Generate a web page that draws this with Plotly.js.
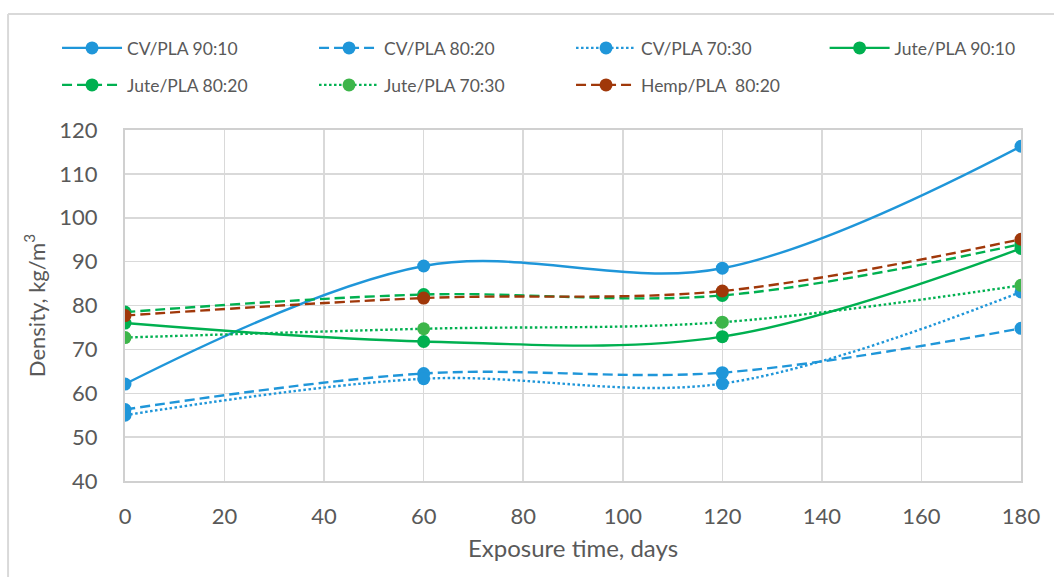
<!DOCTYPE html>
<html>
<head>
<meta charset="utf-8">
<script src="https://cdn.plot.ly/plotly-3.0.1.min.js"></script>
<style>html,body{margin:0;padding:0;background:#fff;}#chart{width:1054px;height:577px;}</style>
</head>
<body>
<div id="chart"></div>
<script>
const days = [0, 60, 120, 180];
const cvPla9010 = [62.1, 89.0, 88.5, 116.3];
const cvPla8020 = [56.3, 64.5, 64.7, 74.8];
const cvPla7030 = [55.0, 63.3, 62.2, 83.1];
const jutePla9010 = [76.0, 71.8, 72.9, 93.0];
const jutePla8020 = [78.5, 82.5, 82.3, 94.0];
const jutePla7030 = [72.7, 74.7, 76.2, 84.6];
const hempPla8020 = [77.7, 81.7, 83.3, 95.1];
const seriesNames = ["CV/PLA 90:10", "CV/PLA 80:20", "CV/PLA 70:30", "Jute/PLA 90:10", "Jute/PLA 80:20", "Jute/PLA 70:30", "Hemp/PLA  80:20"];
const xTicks = [0, 20, 40, 60, 80, 100, 120, 140, 160, 180];
const yTicks = [40, 50, 60, 70, 80, 90, 100, 110, 120];

const blue = '#1F96D9', green = '#00B050', lgreen = '#3DB54A', brown = '#A0380A';
function tr(name, y, color, dash, legendId, mcolor) {
  return {
    x: days, y: y, name: name, type: 'scatter', mode: 'lines+markers', legend: legendId,
    line: {color: color, width: 2.4, dash: dash, shape: 'spline', smoothing: 1},
    marker: {color: mcolor || color, size: 13, line: {width: 0}}
  };
}
const dashL = '10px,5px', dotL = '2.5px,2.5px';
const data = [
  tr(seriesNames[0], cvPla9010, blue, 'solid', 'legend'),
  tr(seriesNames[1], cvPla8020, blue, dashL, 'legend'),
  tr(seriesNames[2], cvPla7030, blue, dotL, 'legend'),
  tr(seriesNames[3], jutePla9010, green, 'solid', 'legend3'),
  tr(seriesNames[4], jutePla8020, green, dashL, 'legend2'),
  tr(seriesNames[5], jutePla7030, green, dotL, 'legend2', lgreen),
  tr(seriesNames[6], hempPla8020, brown, dashL, 'legend2')
];
const font = {family: 'Lato, "Open Sans", sans-serif', color: '#595959'};
const L = 125, R = 1054 - 1021.5, T = 130, B = 577 - 481;
const pw = 1054 - L - R, ph = 577 - T - B;
function leg(xPix, yPix, ew) {
  const o = {
    orientation: 'h', x: (xPix - L) / pw, y: (577 - B - yPix) / ph, xanchor: 'left', yanchor: 'middle',
    traceorder: 'normal',
    font: Object.assign({size: 17.5}, font), itemwidth: 60, bgcolor: 'rgba(0,0,0,0)'
  };
  if (ew) { o.entrywidth = ew; o.entrywidthmode = 'pixels'; }
  return o;
}
const layout = {
  width: 1054, height: 577,
  margin: {l: L, r: R, t: T, b: B, pad: 0},
  paper_bgcolor: '#fff', plot_bgcolor: '#fff',
  font: Object.assign({size: 22}, font),
  showlegend: true,
  legend: leg(57, 48, 182),
  legend3: leg(825, 48, 0),
  legend2: leg(57, 85, 182),
  xaxis: {
    range: [0, 180], tickvals: xTicks, ticktext: xTicks.map(String),
    showgrid: true, gridcolor: '#D9D9D9', gridwidth: 1.5,
    showline: true, linecolor: '#D0D0D0', linewidth: 2, mirror: true,
    zeroline: false, ticks: '', ticklabelstandoff: 15,
    tickfont: Object.assign({size: 22}, font),
    title: {text: 'Exposure time, days', font: Object.assign({size: 24}, font), standoff: 12}
  },
  yaxis: {
    range: [40, 120], tickvals: yTicks, ticktext: yTicks.map(String),
    showgrid: true, gridcolor: '#D9D9D9', gridwidth: 1.5,
    showline: true, linecolor: '#D0D0D0', linewidth: 2, mirror: true,
    zeroline: false, ticks: '', ticklabelstandoff: 21,
    tickfont: Object.assign({size: 22}, font),
    title: {text: 'Density, kg/m<sup>3</sup>', font: Object.assign({size: 22}, font), standoff: 8}
  },
  shapes: [
    {type: 'line', xref: 'paper', yref: 'paper', x0: (8 - L) / pw, x1: (8 - L) / pw, y0: -0.5, y1: (577 - 14 - B) / ph, line: {color: '#D9D9D9', width: 2}},
    {type: 'line', xref: 'paper', yref: 'paper', x0: (8 - L) / pw, x1: 1.2, y0: (577 - 14 - B) / ph, y1: (577 - 14 - B) / ph, line: {color: '#D9D9D9', width: 2}}
  ]
};
Plotly.newPlot('chart', data, layout, {displayModeBar: false, staticPlot: true});
</script>
</body>
</html>
